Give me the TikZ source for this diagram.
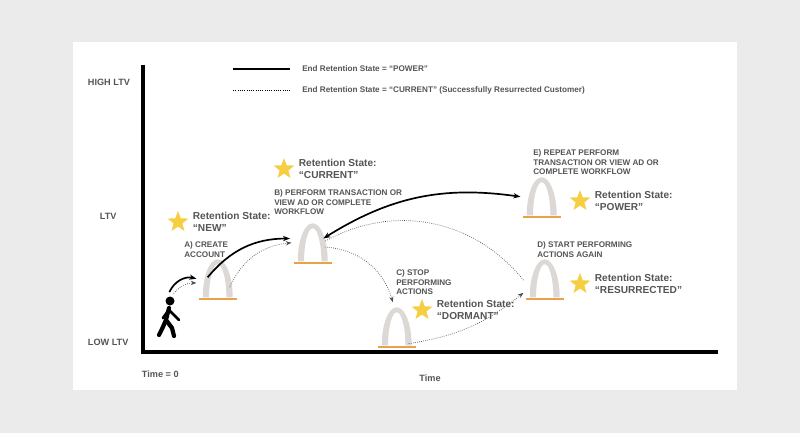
\documentclass[tikz,border=0pt]{standalone}
\usepackage{fontspec}
\setmainfont{Liberation Sans}
\usetikzlibrary{arrows.meta,positioning,shapes.geometric}
\definecolor{txtgray}{HTML}{555555}
\definecolor{archgray}{HTML}{DCD8D6}
\definecolor{archbase}{HTML}{E8A24A}
\definecolor{stary}{HTML}{F5CE42}
\tikzset{
  axislbl/.style={font=\bfseries\fontsize{6.5}{7.5}\selectfont, text=txtgray, align=left},
  steplbl/.style={font=\bfseries\fontsize{5.8}{7}\selectfont, text=txtgray, align=left, anchor=north west, inner sep=0pt},
  statelbl/.style={font=\bfseries\fontsize{7.2}{8.6}\selectfont, text=txtgray, align=left, anchor=west, inner sep=0pt},
  starmark/.style={star, star points=5, star point ratio=2.4, fill=stary, inner sep=0pt, minimum size=22*0.025cm},
  archbox/.style={minimum width=37*0.025cm, minimum height=40*0.025cm, inner sep=0pt, anchor=south},
  solidarrow/.style={-{Stealth[length=5pt]}, line width=1.2pt},
  dotarrow/.style={-{Stealth[length=4pt]}, densely dotted, line width=0.5pt, black!70},
}
\newcommand{\archat}[3]{%
  \node[archbox] (#1) at (#2,#3) {};
  \fill[archgray] (#1.south west) ++(2.5pt,1.2pt) arc[start angle=180, end angle=0, x radius=18.5*0.025cm-2.5pt, y radius=38*0.025cm]
    -- ++(-4.5pt,0) arc[start angle=0, end angle=180, x radius=18.5*0.025cm-7pt, y radius=38*0.025cm-3.5pt] -- cycle;
  \draw[archbase, line width=1.6pt] (#1.south west) -- (#1.south east);
}
\begin{document}
\begin{tikzpicture}[x=0.025cm, y=-0.025cm]
\useasboundingbox (0,0) rectangle (800,433);
\fill[black!8] (0,0) rectangle (800,433);
\fill[white] (73,42) rectangle (737,390);

% Axes
\coordinate (origin) at (143,352);
\coordinate (ytop) at (143,65);
\coordinate (xend) at (718,352);
\draw[line width=2.2pt] (ytop) -- (origin) -- (xend);
\node[axislbl, anchor=west] (high) at (83,82) {HIGH LTV};
\node[axislbl, anchor=west] (mid) at (95,216) {LTV};
\node[axislbl, anchor=west] (low) at (83,342) {LOW LTV};
\node[axislbl, anchor=west] (t0) at (137,374) {Time = 0};
\node[axislbl] (time) at (430,378) {Time};

% Legend
\coordinate (l1a) at (233,69);
\coordinate (l1b) at (290,69);
\coordinate (l2a) at (233,90);
\coordinate (l2b) at (290,90);
\draw[line width=1pt] (l1a) -- (l1b);
\draw[densely dotted, line width=0.6pt] (l2a) -- (l2b);
\node[steplbl, anchor=west] (leg1) at (302,69) {End Retention State = “POWER”};
\node[steplbl, anchor=west] (leg2) at (302,90) {End Retention State = “CURRENT” (Successfully Resurrected Customer)};

% Arches
\archat{arA}{218}{299}
\archat{arB}{313}{263}
\archat{arC}{397}{347}
\archat{arD}{545}{299}
\archat{arE}{542}{217}

% Person
\node[inner sep=0pt, minimum width=22*0.025cm, minimum height=40*0.025cm] (walker) at (168,318) {};
\fill (170,301) circle (3.2pt);
\draw[line width=3pt, line cap=round] (169,308) -- (166,320) -- (172,328) -- (174,336);
\draw[line width=3pt, line cap=round] (166,320) -- (162,329) -- (159,335);
\draw[line width=2pt, line cap=round] (169,310) -- (163,318);
\draw[line width=2pt, line cap=round] (169,310) -- (176,317) -- (179,320);

% Stars and states
\node[starmark] (sNew) at (178,222) {};
\node[statelbl, right=8*0.025cm of sNew] (tNew) {Retention State:\\“NEW”};
\node[starmark] (sCur) at (284,169) {};
\node[statelbl, right=8*0.025cm of sCur] (tCur) {Retention State:\\“CURRENT”};
\node[starmark] (sDor) at (422,310) {};
\node[statelbl, right=8*0.025cm of sDor] (tDor) {Retention State:\\“DORMANT”};
\node[starmark] (sRes) at (580,284) {};
\node[statelbl, right=8*0.025cm of sRes] (tRes) {Retention State:\\“RESURRECTED”};
\node[starmark] (sPow) at (580,201) {};
\node[statelbl, right=8*0.025cm of sPow] (tPow) {Retention State:\\“POWER”};

% Steps
\node[steplbl] (stA) at (184,241) {A) CREATE\\ACCOUNT};
\node[steplbl] (stB) at (274,189) {B) PERFORM TRANSACTION OR\\VIEW AD OR COMPLETE\\WORKFLOW};
\node[steplbl] (stC) at (396,269) {C) STOP\\PERFORMING\\ACTIONS};
\node[steplbl] (stD) at (537,241) {D) START PERFORMING\\ACTIONS AGAIN};
\node[steplbl] (stE) at (533,149) {E) REPEAT PERFORM\\TRANSACTION OR VIEW AD OR\\COMPLETE WORKFLOW};

% Solid path
\draw[solidarrow] ([xshift=1pt,yshift=4pt]walker.north) to[bend left=40] ([xshift=-2pt]arA.west);
\draw[solidarrow] ([xshift=6pt,yshift=1pt]arA.west) to[bend left=25] ([xshift=-3pt,yshift=3pt]arB.west);
\draw[solidarrow, {Stealth[length=5pt]}-{Stealth[length=5pt]}] ([xshift=-6pt,yshift=3pt]arB.east) to[bend left=20] ([xshift=-2pt]arE.west);

% Dotted path
\draw[dotarrow] ([xshift=4pt,yshift=3pt]walker.north) to[bend left=25] ([xshift=-2pt,yshift=-3pt]arA.west);
\draw[dotarrow] ([xshift=-5pt,yshift=-6pt]arA.east) to[bend left=30] ([xshift=-2pt]arB.west);
\draw[dotarrow] ([xshift=-5pt,yshift=-3pt]arB.east) to[bend left=35] ([xshift=-3pt,yshift=3pt]arC.north);
\draw[dotarrow] ([xshift=-5pt,yshift=-12pt]arC.east) to[bend right=15] ([xshift=-2pt,yshift=-10pt]arD.west);
\draw[densely dotted, line width=0.5pt, black!70] ([xshift=-2pt,yshift=-1pt]arD.west) to[bend right=40] ([xshift=-5pt,yshift=1pt]arB.east);
\end{tikzpicture}
\end{document}
